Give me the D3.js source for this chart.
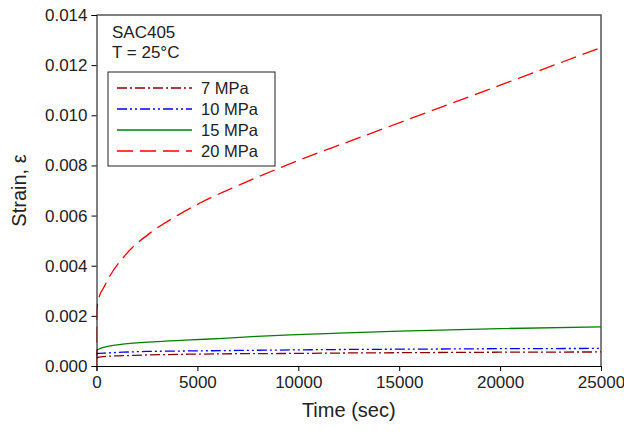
<!DOCTYPE html>
<html>
<head>
<meta charset="utf-8">
<script src="https://cdn.jsdelivr.net/npm/d3@7"></script>
<style>
  html, body { margin: 0; padding: 0; background: #fff; }
  svg { display: block; font-family: "Liberation Sans", Arial, sans-serif; }
</style>
</head>
<body>
<svg id="chart" width="624" height="433"></svg>
<script>
// ---- Data ----
const seriesNames = ["7 MPa", "10 MPa", "15 MPa", "20 MPa"];
const xTicks = [0, 5000, 10000, 15000, 20000, 25000];
const yTicks = [0, 0.002, 0.004, 0.006, 0.008, 0.010, 0.012, 0.014];

const time7  = [0, 50, 300, 800, 1300, 2500, 4600, 7000, 9600, 12500, 15000, 20000, 25000];
const strain7 = [0.00030, 0.00034, 0.00037, 0.00040, 0.00041, 0.00044, 0.00047, 0.00049, 0.00050, 0.00052, 0.00053, 0.00055, 0.00056];

const time10 = [0, 50, 500, 1300, 2500, 4600, 7000, 9600, 12500, 15000, 20000, 25000];
const strain10 = [0.00045, 0.00050, 0.00052, 0.00055, 0.00058, 0.00060, 0.00062, 0.00064, 0.00066, 0.00067, 0.00069, 0.00070];

const time15 = [0, 20, 100, 500, 1300, 3000, 4640, 6270, 7940, 9590, 12000, 15000, 20000, 25000];
const strain15 = [0.00040, 0.00062, 0.00067, 0.00077, 0.00087, 0.00097, 0.00104, 0.00110, 0.00118, 0.00124, 0.00131, 0.00139, 0.00149, 0.00156];

const time20 = [0, 2, 10, 40, 150, 340, 670, 1400, 2650, 4000, 5130, 7600, 10000, 12500, 15000, 17500, 20000, 22500, 25000];
const strain20 = [0, 0.0016, 0.0021, 0.0024, 0.0028, 0.0031, 0.0036, 0.0044, 0.0053, 0.0060, 0.0065, 0.0074, 0.0082, 0.00895, 0.0097, 0.01045, 0.0112, 0.01195, 0.0127];

const seriesColors = ["#8B0000", "#0000FF", "#008000", "#FF0000"];
const seriesDash = ["10,3,2,3", "10,3,2,3,2,3", null, "16,7"];

const series = [
  { name: seriesNames[0], t: time7,  s: strain7 },
  { name: seriesNames[1], t: time10, s: strain10 },
  { name: seriesNames[2], t: time15, s: strain15 },
  { name: seriesNames[3], t: time20, s: strain20 }
];

// ---- Layout ----
const svg = d3.select("#chart");
const pL = 96.5, pR = 601, pT = 15, pB = 366;

const x = d3.scaleLinear().domain([0, 25000]).range([pL, pR]);
const y = d3.scaleLinear().domain([0, 0.014]).range([pB, pT]);

// frame (top & right)
svg.append("path")
  .attr("d", `M${pL},${pT}H${pR}V${pB}`)
  .attr("fill", "none").attr("stroke", "#555").attr("stroke-width", 1.5);

// clip
svg.append("clipPath").attr("id", "clip")
  .append("rect").attr("x", pL).attr("y", pT - 1).attr("width", pR - pL).attr("height", pB - pT + 1);

const line = d3.line()
  .x((d) => x(d[0]))
  .y((d) => y(d[1]))
  .curve(d3.curveMonotoneX);

const gLines = svg.append("g").attr("clip-path", "url(#clip)");
series.forEach((sr, i) => {
  const pts = sr.t.map((t, k) => [t, sr.s[k]]);
  gLines.append("path")
    .datum(pts)
    .attr("d", line)
    .attr("fill", "none")
    .attr("stroke", seriesColors[i])
    .attr("stroke-width", 1.3)
    .attr("stroke-dasharray", seriesDash[i]);
});

// axes
const yAxis = d3.axisLeft(y).tickValues(yTicks).tickFormat(d3.format(".3f")).tickSize(5).tickPadding(4);
const gy = svg.append("g").attr("transform", `translate(${pL},0)`).call(yAxis);
const xAxis = d3.axisBottom(x).tickValues(xTicks).tickFormat(d3.format("d")).tickSize(5).tickPadding(5);
const gx = svg.append("g").attr("transform", `translate(0,${pB})`).call(xAxis);
[gx, gy].forEach((g) => {
  g.select(".domain").attr("stroke", "#000").attr("stroke-width", 1);
  g.selectAll(".tick line").attr("stroke", "#000");
  g.selectAll(".tick text").attr("font-size", 17).attr("fill", "#222")
    .attr("font-family", "'Liberation Sans', Arial, sans-serif");
});

// axis titles
svg.append("text")
  .attr("transform", `translate(26,${(pT + pB) / 2}) rotate(-90)`)
  .attr("text-anchor", "middle")
  .attr("font-size", 20).attr("fill", "#222")
  .text("Strain, ε");
svg.append("text")
  .attr("x", (pL + pR) / 2).attr("y", 417)
  .attr("text-anchor", "middle")
  .attr("font-size", 20).attr("fill", "#222")
  .text("Time (sec)");

// annotation
svg.append("text").attr("x", 112).attr("y", 38).attr("font-size", 17).attr("fill", "#222").text("SAC405");
svg.append("text").attr("x", 112).attr("y", 58).attr("font-size", 17).attr("fill", "#222").text("T = 25°C");

// legend
const lg = svg.append("g");
lg.append("rect").attr("x", 108).attr("y", 72).attr("width", 167).attr("height", 94)
  .attr("fill", "#fff").attr("stroke", "#222").attr("stroke-width", 1);
series.forEach((sr, i) => {
  const yy = 88 + i * 21;
  lg.append("line").attr("x1", 117).attr("x2", 192).attr("y1", yy).attr("y2", yy)
    .attr("stroke", seriesColors[i]).attr("stroke-width", 1.3)
    .attr("stroke-dasharray", seriesDash[i]);
  lg.append("text").attr("x", 201).attr("y", yy).attr("dy", "0.35em")
    .attr("font-size", 16.5).attr("fill", "#222").text(sr.name);
});
</script>
</body>
</html>
